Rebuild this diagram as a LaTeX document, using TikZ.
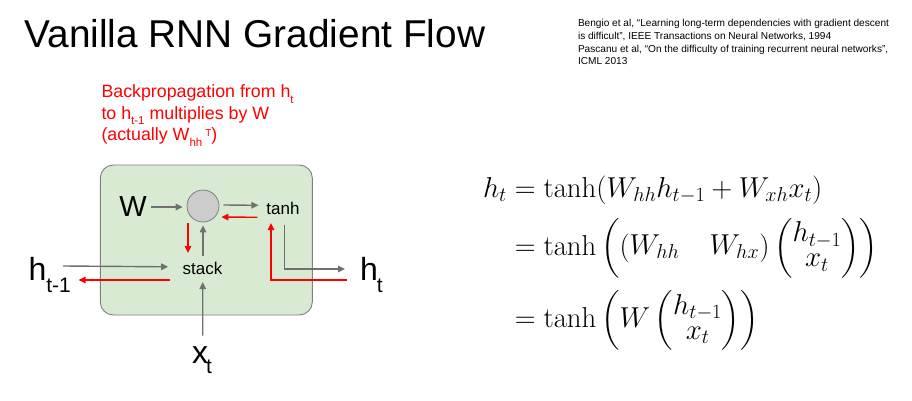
\RequirePackage{fix-cm}
\documentclass[tikz,border=0pt]{standalone}
\usepackage{amsmath}
\usepackage[no-math]{fontspec}
\setmainfont{Liberation Sans}
\usetikzlibrary{arrows.meta,calc}
\definecolor{boxgreen}{HTML}{D9EAD3}
\definecolor{boxline}{HTML}{7F7F7F}
\definecolor{arrgray}{HTML}{707070}
\definecolor{circfill}{HTML}{CCCCCC}
\definecolor{sred}{HTML}{FF0000}
\newcommand\rsub[1]{\raisebox{-5.5pt}{\fontsize{11.5}{11.5}\selectfont #1}}
\newcommand\rsup[1]{\kern3pt\raisebox{4.5pt}{\fontsize{10}{10}\selectfont #1}}
\newcommand\bsub[1]{\raisebox{-12pt}{\fontsize{21}{21}\selectfont #1}}
\tikzset{
  garr/.style={draw=arrgray, line width=1.4pt, -{Triangle[length=7pt,width=6.5pt]}},
  rarr/.style={draw=sred, line width=1.4pt, -{Triangle[length=7pt,width=6.5pt]}},
  lbl/.style={inner sep=0pt, outer sep=0pt},
  big/.style={lbl, font=\fontsize{32}{32}\selectfont},
  small/.style={lbl, font=\fontsize{17}{17}\selectfont},
}
\begin{document}
\begin{tikzpicture}[x=1pt,y=-1pt]
\useasboundingbox (0,0) rectangle (912,401);
% title and references
\node[lbl, anchor=base west, font=\fontsize{38.8}{40}\selectfont] (title) at (24.5,48) {Vanilla RNN Gradient Flow};
\node[lbl, anchor=north west, align=left, font=\fontsize{10.1}{12.7}\selectfont] (refs) at (578,19.5)
  {Bengio et al, “Learning long-term dependencies with gradient descent\\
   is difficult”, IEEE Transactions on Neural Networks, 1994\\
   Pascanu et al, “On the difficulty of training recurrent neural networks”,\\
   ICML 2013};
% red note
\node[lbl, anchor=north west, align=left, text=sred, font=\fontsize{17.8}{21.5}\selectfont] (note) at (101.5,85)
  {Backpropagation from h\rsub{t}\\
   to h\rsub{t-1} multiplies by W\\
   (actually W\rsub{hh}\rsup{T})};
% cell
\node[draw=boxline, fill=boxgreen, line width=0.9pt, rounded corners=13pt,
      minimum width=212pt, minimum height=150pt, inner sep=0pt] (cell) at (206.3,240) {};
\node[circle, draw=boxline, fill=circfill, line width=0.8pt, minimum size=32pt, inner sep=0pt] (mul) at (203,206) {};
\node[lbl, font=\fontsize{29}{29}\selectfont] (W) at (133,207) {W};
\node[small] (tanh) at (283,208.3) {tanh};
\node[small] (stack) at (202.5,268.3) {stack};
\node[big, anchor=base west] (htm) at (28.5,280) {h\bsub{t-1}};
\node[big, anchor=base west] (ht) at (360,280) {h\kern-1pt\bsub{t}};
\node[big, anchor=base west] (xt) at (192,363) {x\kern-2pt\raisebox{-10pt}{\fontsize{21}{21}\selectfont t}};
% connectors
\draw[garr] ($(W.east)+(4,0)$) -- ($(mul.west)+(-4,1)$);
\draw[garr] ($(mul.east)+(4,-1)$) -- ($(tanh.west)+(-8,-3)$);
\draw[rarr] ($(tanh.west)+(-9,9)$) -- ($(mul.east)+(2,11)$);
\draw[rarr] ($(mul.south)+(-15,1)$) -- ($(stack.north)+(-14.5,-9)$);
\draw[garr] ($(stack.north)+(0.5,-6)$) -- ($(mul.south)+(0,3)$);
\draw[garr] ($(htm.base west)+(34.5,-14)$) -- ($(stack.west)+(-14.5,-1.5)$);
\draw[rarr] ($(stack.west)+(-12.5,11.7)$) -- ($(htm.base west)+(50,0)$);
\draw[garr] ($(xt.base west)+(10.7,-27.5)$) -- ($(stack.south)+(0.3,7.5)$);
\draw[garr] ($(tanh.south)+(1.3,10.5)$) |- ($(ht.base west)+(-15,-11)$);
\draw[rarr] ($(ht.base west)+(-13.5,0)$) -| ($(tanh.south)+(-12,8.5)$);
% equations
\node[lbl, anchor=north west, font=\fontsize{28.8}{25}\selectfont] (eq) at (483,176)
  {\setlength{\jot}{12pt}\setlength{\arraycolsep}{15pt}$\begin{aligned}
   h_t &= \tanh(W_{hh}h_{t-1} + W_{xh}x_t)\\
       &= \tanh\left(\begin{pmatrix} W_{hh} & W_{hx}\end{pmatrix}\begin{pmatrix} h_{t-1}\\ x_t\end{pmatrix}\right)\\
       &= \tanh\left(W\begin{pmatrix} h_{t-1}\\ x_t\end{pmatrix}\right)
   \end{aligned}$};
\end{tikzpicture}
\end{document}
